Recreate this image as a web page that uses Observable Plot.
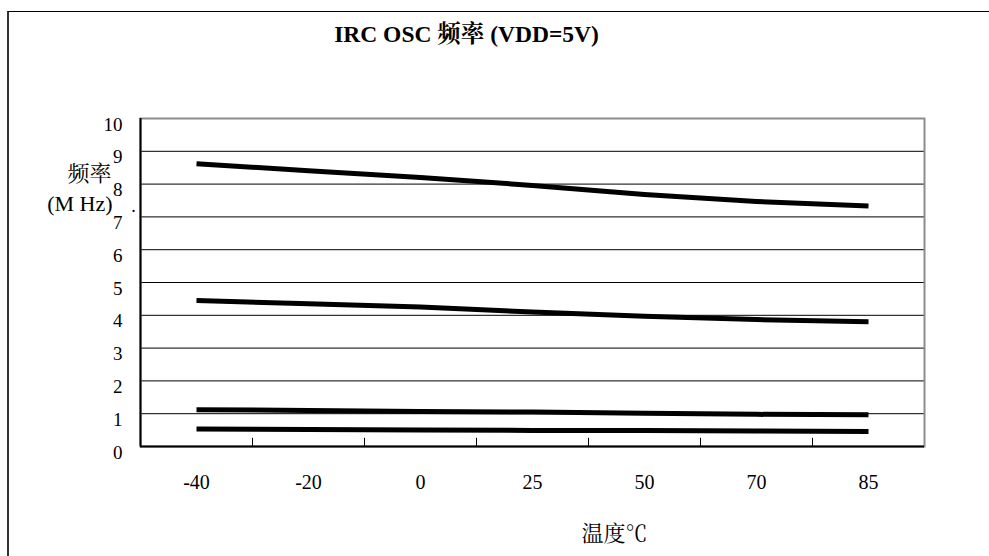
<!DOCTYPE html>
<html><head><meta charset="utf-8">
<script src="https://cdn.jsdelivr.net/npm/d3@7"></script>
<script src="https://cdn.jsdelivr.net/npm/@observablehq/plot@0.6"></script>
<style>
body{margin:0;background:#fff;}
#wrap{position:relative;width:989px;height:556px;overflow:hidden;}
#wrap svg{position:absolute;left:0;top:0;}
#border{position:absolute;left:7px;top:11px;right:-5px;bottom:-5px;border-left:2px solid #333;border-top:1px solid #000;pointer-events:none;}
</style></head><body><div id="wrap"><div id="border"></div></div>
<script>
const temps = ["-40","-20","0","25","50","70","85"];
const series1 = [8.62,8.41,8.20,7.96,7.68,7.47,7.33];
const series2 = [4.45,4.35,4.25,4.10,3.97,3.87,3.80];
const series3 = [1.12,1.10,1.07,1.05,1.01,0.98,0.97];
const series4 = [0.53,0.52,0.50,0.49,0.49,0.47,0.46];
const yTicks = [0,1,2,3,4,5,6,7,8,9,10];
const titleText = "IRC OSC 频率 (VDD=5V)";
const yLabel1 = "频率";
const yLabel2 = "(M Hz)";
const xLabel = "温度℃";

const allSeries = [series1, series2, series3, series4];
const data = allSeries.flatMap((s, si) => s.map((v, i) => ({temp: temps[i], value: v, series: si})));

const W = 989, H = 556, ML = 140, MR = 65, MT = 118, MB = 110;
const step = (W - ML - MR) / temps.length;
const serif = '"Liberation Serif", "Times New Roman", "Noto Serif CJK SC", "Noto Sans CJK SC", serif';

const chart = Plot.plot({
  width: W, height: H,
  marginLeft: ML, marginRight: MR, marginTop: MT, marginBottom: MB,
  style: {fontFamily: serif, background: "transparent", color: "#000", overflow: "visible"},
  x: {type: "band", domain: temps, padding: 0, label: null, axis: null},
  y: {domain: [0, 10], label: null, axis: null},
  marks: [
    Plot.ruleY(yTicks.slice(1, -1), {stroke: "#000", strokeWidth: 1}),
    Plot.frame({stroke: "#8c8c8c", strokeWidth: 2}),
    Plot.ruleY([0], {stroke: "#000", strokeWidth: 2}),
    Plot.ruleX([temps[0]], {dx: -step / 2, stroke: "#000", strokeWidth: 2}),
    Plot.ruleX(temps.slice(1), {y1: 0, y2: 0.25, dx: -step / 2, stroke: "#000", strokeWidth: 1}),
    Plot.line(data, {x: "temp", y: "value", z: "series", stroke: "#000", strokeWidth: 5, strokeLinecap: "butt", strokeLinejoin: "round"}),
    Plot.axisY(yTicks, {anchor: "left", tickSize: 0, tickPadding: 18, fontSize: 19, dy: 6, label: null}),
    Plot.axisX(temps, {anchor: "bottom", tickSize: 0, tickPadding: 28, fontSize: 20, label: null}),
    Plot.text([titleText], {text: d => d, frameAnchor: "top", lineAnchor: "middle", dx: -66, dy: -84, fontSize: 23.5, fontWeight: "bold"}),
    Plot.text([yLabel1], {text: d => d, frameAnchor: "top-left", textAnchor: "end", lineAnchor: "middle", dx: -29, dy: 55, fontSize: 22}),
    Plot.text([yLabel2], {text: d => d, frameAnchor: "top-left", textAnchor: "end", lineAnchor: "middle", dx: -28, dy: 85, fontSize: 22}),
    Plot.text(["."], {text: d => d, frameAnchor: "top-left", textAnchor: "middle", lineAnchor: "middle", dx: -7, dy: 88, fontSize: 18}),
    Plot.text([xLabel], {text: d => d, frameAnchor: "bottom", lineAnchor: "middle", dx: 82, dy: 87, fontSize: 22})
  ]
});
document.getElementById("wrap").appendChild(chart);
</script>
</body></html>
